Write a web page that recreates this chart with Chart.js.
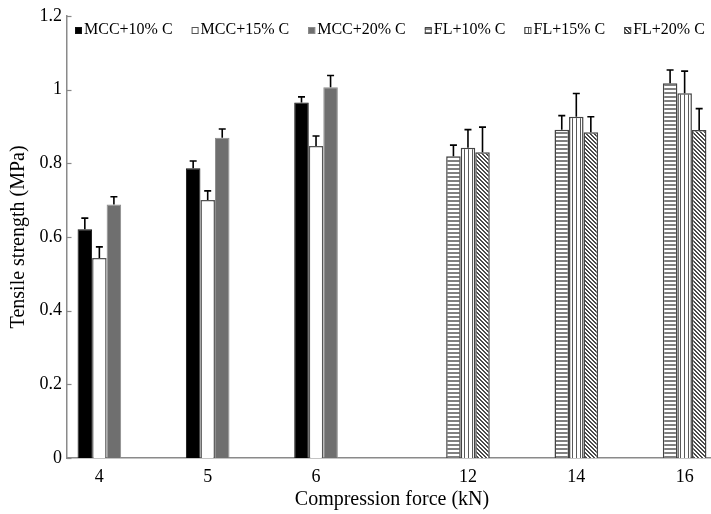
<!DOCTYPE html>
<html>
<head>
<meta charset="utf-8">
<script src="https://cdn.jsdelivr.net/npm/chart.js@4"></script>
<style>
  html, body { margin: 0; padding: 0; background: #fff; overflow: hidden; }
  #wrap { width: 720px; height: 514px; }
</style>
</head>
<body>
<div id="wrap"><canvas id="c" width="720" height="514" style="width:720px;height:514px"></canvas></div>
<script>
// ---- data ----
const categories = ['4', '5', '6', '12', '14', '16'];
const seriesNames = ['MCC+10% C', 'MCC+15% C', 'MCC+20% C', 'FL+10% C', 'FL+15% C', 'FL+20% C'];
const mcc10 = [0.621, 0.786, 0.965, null, null, null];
const mcc15 = [0.543, 0.700, 0.847, null, null, null];
const mcc20 = [0.688, 0.869, 1.006, null, null, null];
const fl10  = [null, null, null, 0.819, 0.891, 1.017];
const fl15  = [null, null, null, 0.842, 0.926, 0.990];
const fl20  = [null, null, null, 0.830, 0.884, 0.890];
const mcc10Err = [0.030, 0.020, 0.015, null, null, null];
const mcc15Err = [0.030, 0.025, 0.027, null, null, null];
const mcc20Err = [0.021, 0.024, 0.032, null, null, null];
const fl10Err  = [null, null, null, 0.030, 0.038, 0.036];
const fl15Err  = [null, null, null, 0.049, 0.063, 0.060];
const fl20Err  = [null, null, null, 0.068, 0.042, 0.058];
const yTickLabels = ['0', '0.2', '0.4', '0.6', '0.8', '1', '1.2'];
const xTitle = 'Compression force (kN)';
const yTitle = 'Tensile strength (MPa)';

const FONT = '"Liberation Serif", "Times New Roman", serif';

// ---- patterns ----
function makePattern(kind) {
  const c = document.createElement('canvas');
  c.width = 4; c.height = 4;
  const g = c.getContext('2d');
  g.fillStyle = '#fff'; g.fillRect(0, 0, 4, 4);
  if (kind === 'h') {
    g.fillStyle = '#808080'; g.fillRect(0, 0, 4, 2);
  } else if (kind === 'v') {
    g.fillStyle = '#5a5a5a'; g.fillRect(0, 0, 1, 4);
  } else if (kind === 'd') {
    g.fillStyle = '#4a4a4a';
    for (let i = 0; i < 4; i++) { g.fillRect(i, i, 1, 1); g.fillRect((i + 1) % 4, i, 1, 1); }
  }
  return g.createPattern(c, 'repeat');
}
const ctx0 = document.getElementById('c').getContext('2d');

const datasets = [
  { label: seriesNames[0], data: mcc10, err: mcc10Err, backgroundColor: '#000000', borderColor: '#111111', borderWidth: 1 },
  { label: seriesNames[1], data: mcc15, err: mcc15Err, backgroundColor: '#ffffff', borderColor: '#555555', borderWidth: 1.5 },
  { label: seriesNames[2], data: mcc20, err: mcc20Err, backgroundColor: '#6f6f6f', borderColor: '#8c8c8c', borderWidth: 1 },
  { label: seriesNames[3], data: fl10, err: fl10Err, backgroundColor: makePattern('h'), borderColor: '#444444', borderWidth: 1.5 },
  { label: seriesNames[4], data: fl15, err: fl15Err, backgroundColor: makePattern('v'), borderColor: '#444444', borderWidth: 1.5 },
  { label: seriesNames[5], data: fl20, err: fl20Err, backgroundColor: makePattern('d'), borderColor: '#444444', borderWidth: 1.5 }
];

// ---- plugins ----
const errorBars = {
  id: 'errorBars',
  afterDatasetsDraw(chart) {
    const ctx = chart.ctx, y = chart.scales.y;
    ctx.save();
    ctx.strokeStyle = '#000'; ctx.lineWidth = 1.6;
    chart.data.datasets.forEach((ds, i) => {
      const meta = chart.getDatasetMeta(i);
      ds.data.forEach((v, j) => {
        if (v == null || ds.err[j] == null) return;
        const bar = meta.data[j];
        const yTop = y.getPixelForValue(v + ds.err[j]);
        ctx.beginPath();
        ctx.moveTo(bar.x, bar.y); ctx.lineTo(bar.x, yTop);
        ctx.moveTo(bar.x - 3.5, yTop); ctx.lineTo(bar.x + 3.5, yTop);
        ctx.stroke();
      });
    });
    ctx.restore();
  }
};

const extras = {
  id: 'extras',
  afterDraw(chart) {
    const ctx = chart.ctx, area = chart.chartArea, y = chart.scales.y;
    ctx.save();
    // inward y ticks
    ctx.strokeStyle = '#888'; ctx.lineWidth = 1.2;
    y.ticks.forEach(t => {
      const py = Math.round(y.getPixelForValue(t.value)) + 0.5;
      ctx.beginPath(); ctx.moveTo(area.left, py); ctx.lineTo(area.left + 4.5, py); ctx.stroke();
    });
    // x tick labels centred under the visible bars of each category
    ctx.fillStyle = '#000';
    ctx.font = '18px ' + FONT;
    ctx.textAlign = 'center'; ctx.textBaseline = 'middle';
    categories.forEach((lab, j) => {
      const xs = [];
      chart.data.datasets.forEach((ds, i) => {
        if (ds.data[j] != null) xs.push(chart.getDatasetMeta(i).data[j].x);
      });
      const cx = xs.reduce((a, b) => a + b, 0) / xs.length;
      ctx.fillText(lab, cx, area.bottom + 19);
    });
    // legend
    ctx.font = '16px ' + FONT;
    ctx.textAlign = 'left'; ctx.textBaseline = 'alphabetic';
    let x = area.left + 8;
    const base = 34, box = 7;
    chart.data.datasets.forEach(ds => {
      ctx.fillStyle = ds.backgroundColor;
      ctx.fillRect(x, base - box, box, box);
      ctx.strokeStyle = ds.borderColor; ctx.lineWidth = 1;
      ctx.strokeRect(x + 0.5, base - box + 0.5, box - 1, box - 1);
      ctx.fillStyle = '#000';
      ctx.fillText(ds.label, x + box + 2, base);
      x += box + 2 + ctx.measureText(ds.label).width + 19;
    });
    ctx.restore();
  }
};

new Chart(ctx0, {
  type: 'bar',
  data: { labels: categories, datasets },
  options: {
    responsive: false,
    animation: false,
    devicePixelRatio: 1,
    layout: { padding: { top: 12, right: 3, left: 0, bottom: 0 } },
    datasets: { bar: { barPercentage: 1.0, categoryPercentage: 0.805 } },
    plugins: { legend: { display: false }, tooltip: { enabled: false } },
    scales: {
      x: {
        grid: { display: false },
        border: { display: true, color: '#8a8a8a', width: 1.5 },
        ticks: { display: false },
        title: { display: true, text: xTitle, color: '#000', font: { family: FONT, size: 20 }, padding: { top: 0, bottom: 2 } },
        afterFit(s) { s.height = 56; }
      },
      y: {
        min: 0, max: 1.2,
        grid: { display: false, drawTicks: false },
        border: { display: true, color: '#8a8a8a', width: 1.5 },
        ticks: {
          stepSize: 0.2, padding: 5, color: '#000', font: { family: FONT, size: 18 },
          callback: (v, i) => yTickLabels[i]
        },
        title: { display: true, text: yTitle, color: '#000', font: { family: FONT, size: 20 }, padding: { top: 7, bottom: 0 } },
        afterFit(s) { s.width = 67; }
      }
    }
  },
  plugins: [errorBars, extras]
});
</script>
</body>
</html>
